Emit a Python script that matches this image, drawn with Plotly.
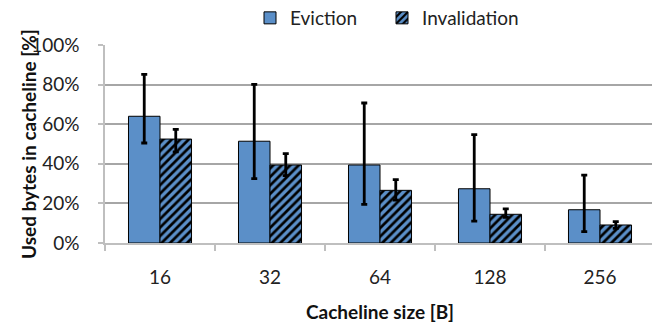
import plotly.graph_objects as go

categories = ["16", "32", "64", "128", "256"]
eviction = [64.0, 51.4, 39.4, 27.4, 16.8]
eviction_hi = [85.2, 80.1, 70.7, 54.7, 34.3]
eviction_lo = [50.5, 32.5, 19.5, 11.0, 5.7]
invalidation = [52.5, 39.4, 26.6, 14.5, 9.1]
invalidation_hi = [57.4, 45.1, 32.0, 17.2, 10.8]
invalidation_lo = [46.0, 34.0, 21.7, 13.0, 7.4]
y_ticks = [0, 20, 40, 60, 80, 100]
y_tick_labels = ["0%", "20%", "40%", "60%", "80%", "100%"]

BLUE = "#5b8fc8"
FONT = "Lato, Open Sans, sans-serif"
FS = 19
# page body has an 8px default margin; figure is sized so it fits the 660x326 window
W, H = 652, 318
ML, MR, MT, MB = 97, 5, 37, 83
PW, PH = W - ML - MR, H - MT - MB

def err(vals, hi, lo):
    return dict(type="data", symmetric=False,
                array=[h - v for v, h in zip(vals, hi)],
                arrayminus=[v - l for v, l in zip(vals, lo)],
                color="black", thickness=2.8, width=3)

fig = go.Figure()
fig.add_trace(go.Bar(
    name="Eviction", x=categories, y=eviction, legend="legend",
    marker=dict(color=BLUE, line=dict(color="black", width=1)),
    error_y=err(eviction, eviction_hi, eviction_lo),
))
fig.add_trace(go.Bar(
    name="Invalidation", x=categories, y=invalidation, legend="legend2",
    marker=dict(color=BLUE, line=dict(color="black", width=1),
                pattern=dict(shape="/", fgcolor="black", bgcolor=BLUE,
                             size=6, solidity=0.45, fillmode="replace")),
    error_y=err(invalidation, invalidation_hi, invalidation_lo),
))

fig.add_annotation(
    text="<b>Used bytes in cacheline [%]</b>", textangle=-90,
    xref="paper", yref="paper", x=(20 - ML) / PW, y=0.5,
    xanchor="center", yanchor="middle", showarrow=False,
    font=dict(size=FS, color="#111111"),
)

leg_common = dict(orientation="h", xref="container", yref="paper",
                  xanchor="left", y=1 + (MT + 9) / PH, yanchor="top",
                  font=dict(size=FS), itemwidth=30,
                  bgcolor="rgba(0,0,0,0)")

fig.update_layout(
    width=W, height=H,
    margin=dict(l=ML, r=MR, t=MT, b=MB, autoexpand=False),
    paper_bgcolor="white", plot_bgcolor="white",
    barmode="group", bargap=0.427, bargroupgap=0,
    font=dict(family=FONT, size=FS, color="#222222"),
    showlegend=True,
    legend=dict(x=242 / W, **leg_common),
    legend2=dict(x=374 / W, **leg_common),
    xaxis=dict(
        type="category", showline=True, linecolor="#bfbfbf", linewidth=1.5,
        ticks="outside", tickson="boundaries", ticklen=6, tickcolor="#bfbfbf",
        tickwidth=1.5, showgrid=False, automargin=True,
        title=dict(text="<b>Cacheline size [B]</b>", font=dict(size=FS, color="#111111"),
                   standoff=19),
        tickfont=dict(size=FS, color="#222222"), ticklabelstandoff=16,
    ),
    yaxis=dict(
        range=[0, 100], tickvals=y_ticks, ticktext=y_tick_labels,
        showline=True, linecolor="#bfbfbf", linewidth=1.5,
        ticks="outside", ticklen=5, tickcolor="#bfbfbf", tickwidth=1.5,
        showgrid=True, gridcolor="#a6a6a6", gridwidth=1.5,
        zeroline=False, automargin=True,
        tickfont=dict(size=FS, color="#222222"), ticklabelstandoff=15,
    ),
)

fig.write_html("out.html")
